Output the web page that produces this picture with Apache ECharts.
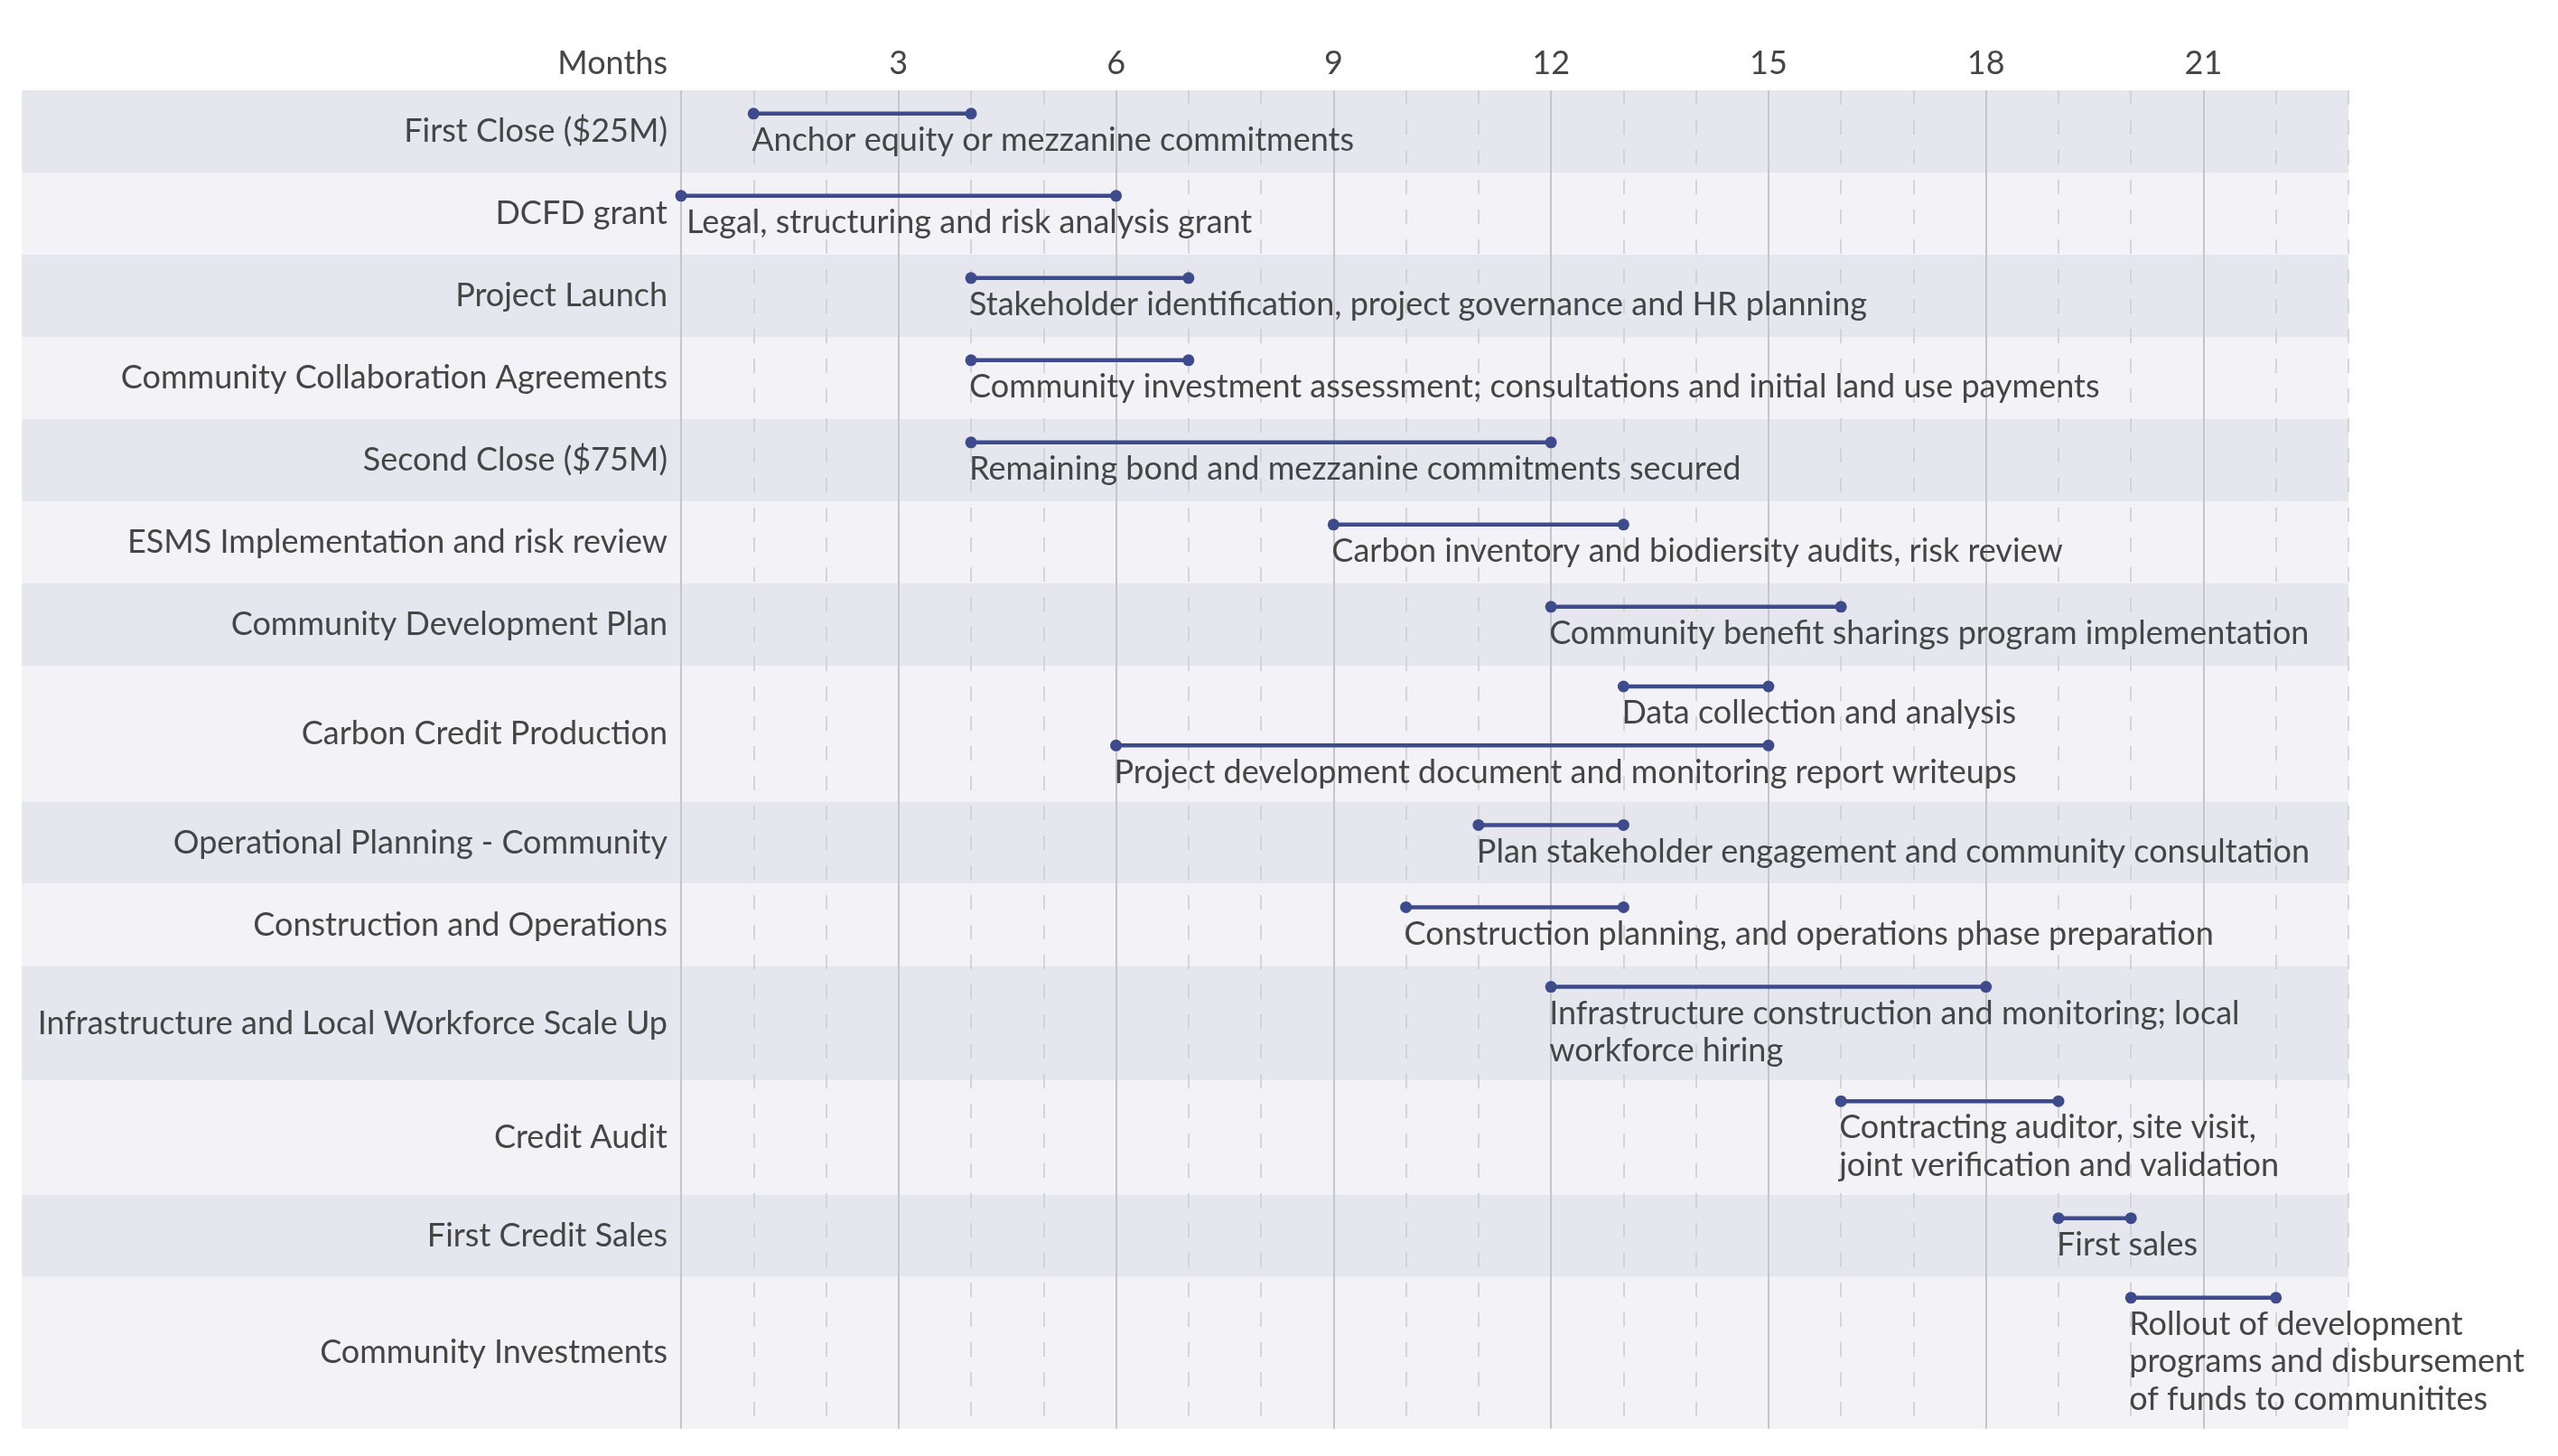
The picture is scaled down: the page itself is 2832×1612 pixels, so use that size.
<!DOCTYPE html>
<html><head><meta charset="utf-8">
<script src="https://cdn.jsdelivr.net/npm/echarts@6/dist/echarts.min.js"></script>
<style>html,body{margin:0;padding:0;background:#fff}#c{width:2832px;height:1612px}</style>
</head><body><div id="c"></div>
<script>
// ---------- DATA ----------
const categories = [
  'First Close ($25M)',
  'DCFD grant',
  'Project Launch',
  'Community Collaboration Agreements',
  'Second Close ($75M)',
  'ESMS Implementation and risk review',
  'Community Development Plan',
  'Carbon Credit Production',
  'Operational Planning - Community',
  'Construction and Operations',
  'Infrastructure and Local Workforce Scale Up',
  'Credit Audit',
  'First Credit Sales',
  'Community Investments'
];
const taskRow   = [0, 1, 2, 3, 4, 5, 6, 7, 7, 8, 9, 10, 11, 12, 13];
const taskStart = [1, 0, 4, 4, 4, 9, 12, 13, 6, 11, 10, 12, 16, 19, 20];
const taskEnd   = [4, 6, 7, 7, 12, 13, 16, 15, 15, 13, 13, 18, 19, 20, 22];
const taskLabel = [
  'Anchor equity or mezzanine commitments',
  'Legal, structuring and risk analysis grant',
  'Stakeholder identification, project governance and HR planning',
  'Community investment assessment; consultations and initial land use payments',
  'Remaining bond and mezzanine commitments secured',
  'Carbon inventory and biodiersity audits, risk review',
  'Community benefit sharings program implementation',
  'Data collection and analysis',
  'Project development document and monitoring report writeups',
  'Plan stakeholder engagement and community consultation',
  'Construction planning, and operations phase preparation',
  'Infrastructure construction and monitoring; local\nworkforce hiring',
  'Contracting auditor, site visit,\njoint verification and validation',
  'First sales',
  'Rollout of development\nprograms and disbursement\nof funds to communitites'
];
const axisName = 'Months';
const monthMin = 0, monthMax = 23, majorStep = 3, majorMax = 21;

// ---------- STYLE / LAYOUT ----------
const FONT = 'Lato';
const FS = 36;
const TEXT = '#454545';
const BAR = '#3d4b8c';
const BAND_DARK = '#e5e6ee';
const BAND_LIGHT = '#f3f3f7';
const GRID_SOLID = '#c6c6ca';
const GRID_DASH = '#cbcbcf';
const LINE_H = 41.3, ITEM_BAR = 20, ROW_PAD = 24, ITEM_GAP = 4, ROW_MIN = 91;
const BAR_OFF = 11, TEXT_OFF = 20;
const LABEL_AREA = 730;
const GRID_LEFT = 754, GRID_RIGHT = 232, GRID_TOP = 100, W = 2832;

// layout rows (in y-axis units)
const rows = [];
const barY = [], textY = [];
let cursor = 0;
categories.forEach((c, r) => {
  const items = taskRow.map((rr, k) => rr === r ? k : -1).filter(k => k >= 0);
  const sizes = items.map(k => ITEM_BAR + LINE_H * taskLabel[k].split('\n').length);
  const content = sizes.reduce((a, b) => a + b, 0) + ITEM_GAP * (items.length - 1);
  const h = Math.max(ROW_MIN, ROW_PAD + content);
  let it = cursor + (h - content) / 2;
  items.forEach((k, j) => {
    barY[k] = it + BAR_OFF;
    textY[k] = it + TEXT_OFF;
    it += sizes[j] + ITEM_GAP;
  });
  rows.push([cursor, cursor + h, r]);
  cursor += h;
});
const TOTAL = cursor;

const chart = echarts.init(document.getElementById('c'), null, {renderer: 'canvas'});
const gridW = W - GRID_LEFT - GRID_RIGHT;

chart.setOption({
  backgroundColor: '#ffffff',
  animation: false,
  grid: [
    {left: GRID_LEFT, right: GRID_RIGHT, top: GRID_TOP, height: TOTAL},
    {left: GRID_LEFT, width: gridW * (majorMax - monthMin) / (monthMax - monthMin), top: GRID_TOP, height: TOTAL}
  ],
  xAxis: [
    {
      gridIndex: 0, type: 'value', min: monthMin, max: monthMax, interval: 1, position: 'top',
      axisLine: {show: false}, axisTick: {show: false}, axisLabel: {show: false},
      splitLine: {show: true, lineStyle: {color: GRID_DASH, width: 1.5, type: [16, 17]}}
    },
    {
      gridIndex: 1, type: 'value', min: monthMin, max: majorMax, interval: majorStep, position: 'top',
      name: axisName, nameLocation: 'start', nameGap: 15,
      nameTextStyle: {fontFamily: FONT, fontSize: FS, color: TEXT, verticalAlign: 'bottom', padding: [0, 0, 12, 0]},
      axisLine: {show: false}, axisTick: {show: false},
      axisLabel: {margin: 12, fontFamily: FONT, fontSize: FS, color: TEXT,
        formatter: v => v === 0 ? '' : String(v)},
      splitLine: {show: true, lineStyle: {color: GRID_SOLID, width: 2, type: 'solid'}}
    }
  ],
  yAxis: [
    {gridIndex: 0, type: 'value', min: 0, max: TOTAL, inverse: true, show: false},
    {gridIndex: 1, type: 'value', min: 0, max: TOTAL, inverse: true, show: false}
  ],
  series: [
    {
      type: 'custom', name: 'bands', xAxisIndex: 0, yAxisIndex: 0, z: -1, clip: false, silent: true,
      data: rows,
      renderItem: (params, api) => {
        const i = api.value(2);
        const tl = api.coord([monthMin, api.value(0)]);
        const br = api.coord([monthMax, api.value(1)]);
        const left = tl[0] - LABEL_AREA;
        return {type: 'group', children: [
          {type: 'rect', shape: {x: left, y: tl[1], width: br[0] - left, height: br[1] - tl[1]},
           style: {fill: i % 2 === 0 ? BAND_DARK : BAND_LIGHT}},
          {type: 'text', style: {text: categories[i], x: tl[0] - 15, y: (tl[1] + br[1]) / 2,
            align: 'right', verticalAlign: 'middle', fontFamily: FONT, fontSize: FS, fill: TEXT}}
        ]};
      }
    },
    {
      type: 'custom', name: 'tasks', xAxisIndex: 0, yAxisIndex: 0, z: 3, clip: false, silent: true,
      data: taskStart.map((s, k) => [s, taskEnd[k], barY[k], textY[k], k]),
      renderItem: (params, api) => {
        const k = api.value(4);
        const p1 = api.coord([api.value(0), api.value(2)]);
        const p2 = api.coord([api.value(1), api.value(2)]);
        const ty = api.coord([api.value(0), api.value(3)])[1];
        const x0 = api.coord([monthMin, 0])[0];
        const tx = Math.max(p1[0] - 2, x0 + 6);
        return {type: 'group', children: [
          {type: 'line', shape: {x1: p1[0], y1: p1[1], x2: p2[0], y2: p2[1]}, style: {stroke: BAR, lineWidth: 4.5}},
          {type: 'circle', shape: {cx: p1[0], cy: p1[1], r: 6.5}, style: {fill: BAR}},
          {type: 'circle', shape: {cx: p2[0], cy: p2[1], r: 6.5}, style: {fill: BAR}},
          {type: 'text', style: {text: taskLabel[k], x: tx, y: ty, align: 'left', verticalAlign: 'top',
            lineHeight: LINE_H, fontFamily: FONT, fontSize: FS, fill: TEXT}}
        ]};
      }
    }
  ]
});
</script>
</body></html>
